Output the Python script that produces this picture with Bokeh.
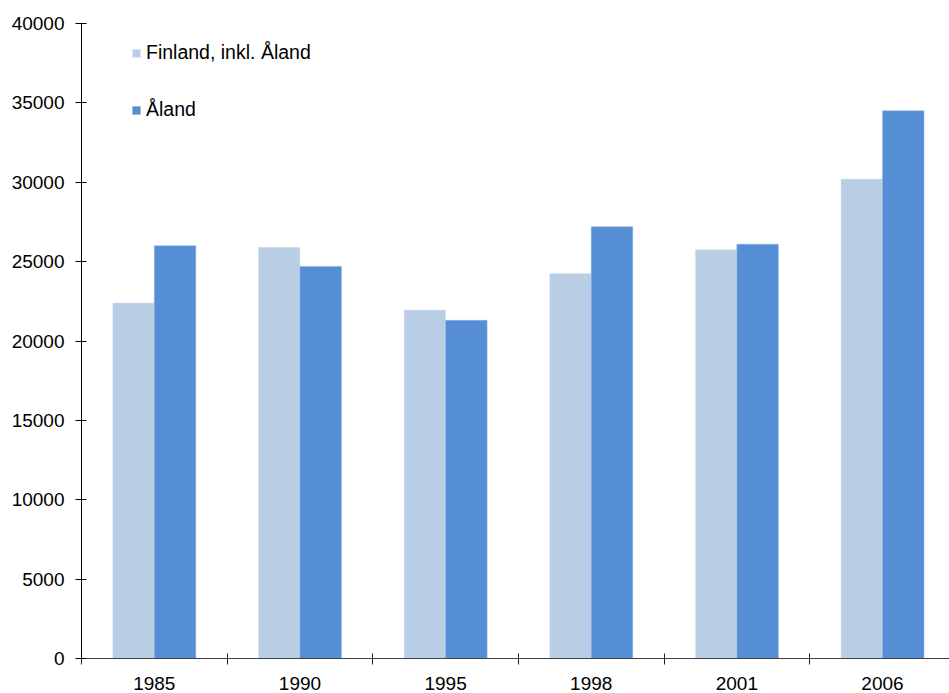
from bokeh.plotting import figure
from bokeh.models import ColumnDataSource, Range1d, FixedTicker, Legend, LegendItem
from bokeh.transform import dodge
from bokeh.embed import file_html
from bokeh.resources import INLINE

years = ["1985", "1990", "1995", "1998", "2001", "2006"]
finland = [22400, 25900, 21950, 24250, 25750, 30200]
aland = [26000, 24700, 21300, 27200, 26100, 34500]
y_ticks = [0, 5000, 10000, 15000, 20000, 25000, 30000, 35000, 40000]

pos = [i + 0.5 for i in range(len(years))]
src = ColumnDataSource(dict(x=pos, fin=finland, ala=aland))

p = figure(width=949, height=693, output_backend="svg", toolbar_location=None,
           x_range=Range1d(0, 5.96), y_range=Range1d(0, 40000),
           min_border_left=81, min_border_right=0, min_border_top=23, min_border_bottom=35)
p.outline_line_color = None
p.xgrid.grid_line_color = None
p.ygrid.grid_line_color = None

bw = 0.285
r1 = p.vbar(x=dodge("x", -bw / 2), top="fin", width=bw, source=src,
            fill_color="#B9CDE5", line_color="#DCE6F2", line_width=0.5)
r2 = p.vbar(x=dodge("x", bw / 2), top="ala", width=bw, source=src,
            fill_color="#558ED5", line_color="#8DB3E2", line_width=0.5)

font = "Liberation Sans"
# y axis
ya = p.yaxis[0]
ya.ticker = FixedTicker(ticks=y_ticks, minor_ticks=[])
ya.axis_line_color = "black"
ya.major_tick_line_color = "black"
ya.major_tick_in = 5
ya.major_tick_out = 6
ya.minor_tick_line_color = None
ya.major_label_standoff = 11
ya.major_label_text_font = font
ya.major_label_text_font_size = "19px"
ya.major_label_text_color = "black"

# x axis
xa = p.xaxis[0]
xa.ticker = FixedTicker(ticks=pos, minor_ticks=[float(i) for i in range(len(years) + 1)])
xa.major_label_overrides = {p_: y for p_, y in zip(pos, years)}
xa.axis_line_color = "#404040"
xa.major_tick_line_color = None
xa.minor_tick_line_color = "#202020"
xa.minor_tick_in = 5
xa.minor_tick_out = 6
xa.major_tick_out = 6
xa.major_label_standoff = 12
xa.major_label_text_font = font
xa.major_label_text_font_size = "19px"
xa.major_label_text_color = "black"

legend = Legend(items=[LegendItem(label="Finland, inkl. Åland", renderers=[r1]),
                       LegendItem(label="Åland", renderers=[r2])],
                location=(50, 537), orientation="vertical")
legend.glyph_width = 10
legend.glyph_height = 10
legend.label_height = 20
legend.spacing = 34
legend.padding = 0
legend.margin = 0
legend.label_standoff = 5
legend.border_line_color = None
legend.background_fill_alpha = 0
legend.label_text_font = font
legend.label_text_font_size = "19.5px"
legend.label_text_color = "black"
p.add_layout(legend, "center")

open("out.html", "w").write(file_html(p, INLINE))
